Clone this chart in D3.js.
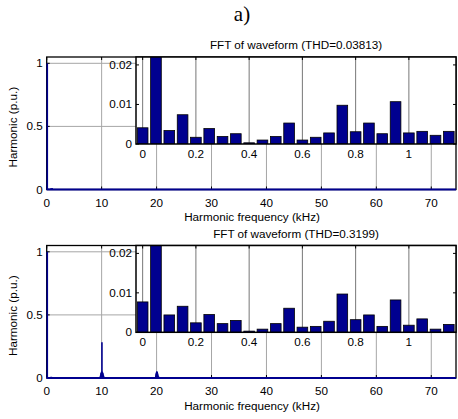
<!DOCTYPE html>
<html>
<head>
<meta charset="utf-8">
<script src="https://cdn.jsdelivr.net/npm/d3@7"></script>
<style>
  body { margin: 0; background: #fff; }
  text { font-family: "Liberation Sans", Arial, sans-serif; font-size: 11.7px; fill: #000; }
</style>
</head>
<body>
<div id="chart"></div>
<script>
// harmonic orders shown in the zoomed inset (kHz)
const harmonicFreq = [0, 0.05, 0.1, 0.15, 0.2, 0.25, 0.3, 0.35, 0.4, 0.45, 0.5, 0.55,
    0.6, 0.65, 0.7, 0.75, 0.8, 0.85, 0.9, 0.95, 1.0, 1.05, 1.1, 1.15];

// magnitudes (p.u.)
const topMag = [0.0041, 1, 0.0034, 0.0074, 0.0017, 0.0039, 0.0019, 0.0026, 0.0003, 0.0010, 0.0019, 0.0053,
    0.0010, 0.0017, 0.0028, 0.0098, 0.0031, 0.0053, 0.0026, 0.0107, 0.0028, 0.0032, 0.0022, 0.0032];
const bottomMag = [0.0077, 1, 0.0044, 0.0066, 0.0024, 0.0045, 0.0022, 0.0030, 0.0003, 0.0008, 0.0022, 0.0061,
    0.0013, 0.0015, 0.0028, 0.0097, 0.0032, 0.0044, 0.0015, 0.0082, 0.0018, 0.0034, 0.0008, 0.0020];

// high frequency content only visible on the full range plots
const topHfFreq = [];
const topHfMag = [];
const bottomHfFreq = [9.6, 9.7, 9.75, 9.8, 9.85, 9.9, 9.95, 10.0, 10.05, 10.1, 10.15, 10.2, 10.25, 10.3, 10.4, 10.5, 10.6,
    19.7, 19.8, 19.85, 19.9, 19.95, 20.0, 20.05, 20.1, 20.15, 20.2, 20.3, 20.4, 49.95, 50.05];
const bottomHfMag = [0.006, 0.012, 0.02, 0.03, 0.04, 0.045, 0.05, 0.284, 0.05, 0.045, 0.04, 0.03, 0.022, 0.015, 0.008, 0.005, 0.003,
    0.008, 0.018, 0.03, 0.04, 0.048, 0.053, 0.048, 0.04, 0.03, 0.02, 0.012, 0.006, 0.005, 0.005];

const mainTicksX = [0, 10, 20, 30, 40, 50, 60, 70];
const mainTicksY = [0, 0.5, 1];
const insetTicksX = [0, 0.2, 0.4, 0.6, 0.8, 1];
const insetTicksY = [0, 0.01, 0.02];
const thdLabels = ["0.03813", "0.3199"];

const barColor = "#00008f";

const panels = [
    { top: 57, bottom: 189.5, insetBottom: 144, mag: topMag, hfFreq: topHfFreq, hfMag: topHfMag, thd: thdLabels[0] },
    { top: 245.5, bottom: 378, insetBottom: 332.3, mag: bottomMag, hfFreq: bottomHfFreq, hfMag: bottomHfMag, thd: thdLabels[1] }
];

const svg = d3.select("#chart")
    .append("svg")
    .attr("width", 458)
    .attr("height", 419);

svg.append("text")
    .attr("x", 242)
    .attr("y", 21)
    .attr("text-anchor", "middle")
    .style("font-family", "'Liberation Serif', 'Times New Roman', serif")
    .style("font-size", "21px")
    .text("a)");

const left = 46.7, right = 456, insetLeft = 136;

panels.forEach((p, i) => {
    const g = svg.append("g");

    const x = d3.scaleLinear().domain([0, 74.5]).range([left, right]);
    const y = d3.scaleLinear().domain([0, 1.05]).range([p.bottom, p.top]);

    // main grid
    g.append("g")
        .selectAll("line")
        .data(mainTicksX.slice(1))
        .enter()
        .append("line")
        .attr("x1", d => x(d)).attr("x2", d => x(d))
        .attr("y1", p.top).attr("y2", p.bottom)
        .attr("stroke", "#a6a6a6").attr("stroke-width", 1);
    g.append("g")
        .selectAll("line")
        .data(mainTicksY.slice(1))
        .enter()
        .append("line")
        .attr("x1", left).attr("x2", right)
        .attr("y1", d => y(d)).attr("y2", d => y(d))
        .attr("stroke", "#a6a6a6").attr("stroke-width", 1);

    // box
    g.append("rect")
        .attr("x", left).attr("y", p.top)
        .attr("width", right - left).attr("height", p.bottom - p.top)
        .attr("fill", "none").attr("stroke", "#000").attr("stroke-width", 1.3);

    // ticks inside
    const tk = g.append("g").attr("stroke", "#000").attr("stroke-width", 1);
    mainTicksX.forEach(d => {
        tk.append("line").attr("x1", x(d)).attr("x2", x(d)).attr("y1", p.bottom).attr("y2", p.bottom - 3);
        tk.append("line").attr("x1", x(d)).attr("x2", x(d)).attr("y1", p.top).attr("y2", p.top + 3);
    });
    mainTicksY.forEach(d => {
        tk.append("line").attr("x1", left).attr("x2", left + 3).attr("y1", y(d)).attr("y2", y(d));
        tk.append("line").attr("x1", right).attr("x2", right - 3).attr("y1", y(d)).attr("y2", y(d));
    });

    // full spectrum bars
    const allFreq = harmonicFreq.concat(p.hfFreq);
    const allMag = p.mag.concat(p.hfMag);
    g.append("g")
        .selectAll("line")
        .data(allFreq.map((f, k) => ({ f: f, m: allMag[k] })))
        .enter()
        .append("line")
        .attr("x1", d => x(d.f) + 0.3).attr("x2", d => x(d.f) + 0.3)
        .attr("y1", y(0)).attr("y2", d => y(d.m))
        .attr("stroke", barColor).attr("stroke-width", 1.6);

    // bar baseline
    g.append("line")
        .attr("x1", left).attr("x2", right)
        .attr("y1", y(0)).attr("y2", y(0))
        .attr("stroke", barColor).attr("stroke-width", 2);

    // tick labels
    g.append("g")
        .selectAll("text")
        .data(mainTicksX)
        .enter()
        .append("text")
        .attr("x", d => x(d))
        .attr("y", p.bottom + 17)
        .attr("text-anchor", "middle")
        .text(d => d);
    g.append("g")
        .selectAll("text")
        .data(mainTicksY)
        .enter()
        .append("text")
        .attr("x", left - 4)
        .attr("y", d => y(d) + 4)
        .attr("text-anchor", "end")
        .text(d => d);

    g.append("text")
        .attr("x", 252)
        .attr("y", p.bottom + 31.5)
        .attr("text-anchor", "middle")
        .text("Harmonic frequency (kHz)");

    g.append("text")
        .attr("transform", `translate(16.5, ${(p.top + p.bottom) / 2 + 4}) rotate(-90)`)
        .attr("text-anchor", "middle")
        .text("Harmonic (p.u.)");

    // ---- inset ----
    const xi = d3.scaleLinear().domain([-0.025, 1.177]).range([insetLeft, right]);
    const yi = d3.scaleLinear().domain([0, 0.022]).range([p.insetBottom, p.top]);
    const bw = xi(0.04) - xi(0);

    g.append("rect")
        .attr("x", insetLeft).attr("y", p.top)
        .attr("width", right - insetLeft).attr("height", p.insetBottom - p.top)
        .attr("fill", "#fff");

    g.append("g")
        .selectAll("line")
        .data(insetTicksX)
        .enter()
        .append("line")
        .attr("x1", d => xi(d)).attr("x2", d => xi(d))
        .attr("y1", p.top).attr("y2", p.insetBottom)
        .attr("stroke", "#777").attr("stroke-width", 1);

    const clipId = "clip" + i;
    g.append("clipPath").attr("id", clipId)
        .append("rect")
        .attr("x", insetLeft).attr("y", p.top)
        .attr("width", right - insetLeft).attr("height", p.insetBottom - p.top);

    g.append("g")
        .attr("clip-path", `url(#${clipId})`)
        .selectAll("rect")
        .data(harmonicFreq.map((f, k) => ({ f: f, m: p.mag[k] })))
        .enter()
        .append("rect")
        .attr("x", d => xi(d.f) - bw / 2)
        .attr("y", d => yi(Math.min(d.m, 0.03)))
        .attr("width", bw)
        .attr("height", d => yi(0) - yi(Math.min(d.m, 0.03)))
        .attr("fill", barColor)
        .attr("stroke", "#000")
        .attr("stroke-width", 0.8);

    const tki = g.append("g").attr("stroke", "#000").attr("stroke-width", 1);
    insetTicksX.forEach(d => {
        tki.append("line").attr("x1", xi(d)).attr("x2", xi(d)).attr("y1", p.top).attr("y2", p.top + 3);
    });
    insetTicksY.forEach(d => {
        tki.append("line").attr("x1", insetLeft).attr("x2", insetLeft + 3).attr("y1", yi(d)).attr("y2", yi(d));
        tki.append("line").attr("x1", right).attr("x2", right - 3).attr("y1", yi(d)).attr("y2", yi(d));
    });

    g.append("rect")
        .attr("x", insetLeft).attr("y", p.top)
        .attr("width", right - insetLeft).attr("height", p.insetBottom - p.top)
        .attr("fill", "none").attr("stroke", "#000").attr("stroke-width", 1.5);

    g.append("g")
        .selectAll("text")
        .data(insetTicksX)
        .enter()
        .append("text")
        .attr("x", d => xi(d))
        .attr("y", p.insetBottom + 14)
        .attr("text-anchor", "middle")
        .text(d => d);
    g.append("g")
        .selectAll("text")
        .data(insetTicksY)
        .enter()
        .append("text")
        .attr("x", insetLeft - 4)
        .attr("y", d => yi(d) + 4)
        .attr("text-anchor", "end")
        .text(d => d);

    g.append("text")
        .attr("x", (insetLeft + right) / 2)
        .attr("y", p.top - 8)
        .attr("text-anchor", "middle")
        .text(`FFT of waveform (THD=${p.thd})`);
});
</script>
</body>
</html>
